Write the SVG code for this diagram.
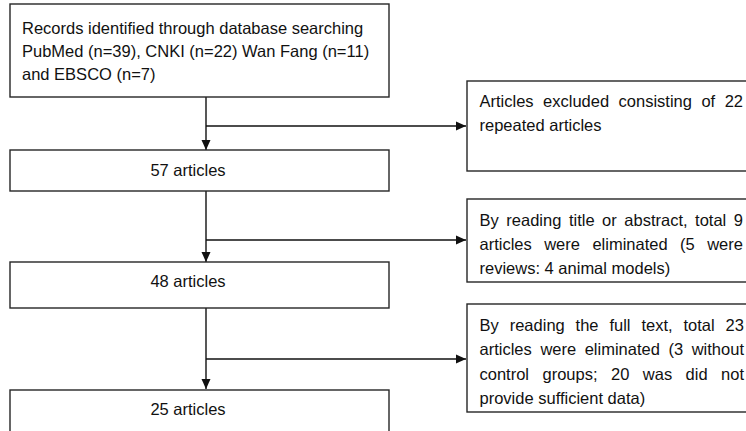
<svg xmlns="http://www.w3.org/2000/svg" width="746" height="431" viewBox="0 0 746 431">
<style>
rect{fill:#fff;stroke:#262626;stroke-width:1.4}
text{font-family:"Liberation Sans",Arial,sans-serif;font-size:16.5px;fill:#111}
.c{text-anchor:middle}
.ln{stroke:#111;stroke-width:1.4;fill:none}
</style>
<defs>
<marker id="ah" viewBox="0 0 10 10" refX="10" refY="5" markerWidth="10" markerHeight="10" markerUnits="userSpaceOnUse" orient="auto">
<path d="M0,0.5 L10,5 L0,9.5 Z" fill="#111"/>
</marker>
</defs>
<rect width="746" height="431" style="fill:#fff;stroke:none"/>
<g id="connectors">
<line class="ln" x1="206" y1="97" x2="206" y2="150" marker-end="url(#ah)"/>
<line class="ln" x1="206" y1="126" x2="466" y2="126" marker-end="url(#ah)"/>
<line class="ln" x1="206" y1="191" x2="206" y2="262" marker-end="url(#ah)"/>
<line class="ln" x1="206" y1="240" x2="466" y2="240" marker-end="url(#ah)"/>
<line class="ln" x1="206" y1="308" x2="206" y2="389" marker-end="url(#ah)"/>
<line class="ln" x1="206" y1="359" x2="466" y2="359" marker-end="url(#ah)"/>
</g>
<g id="records">
<rect x="10" y="4" width="379" height="93"/>
<text x="22" y="34">Records identified through database searching</text>
<text x="22" y="57">PubMed (n=39), CNKI (n=22) Wan Fang (n=11)</text>
<text x="22" y="80">and EBSCO (n=7)</text>
</g>
<g id="n57">
<rect x="10" y="150" width="379" height="41"/>
<text class="c" x="188" y="176">57 articles</text>
</g>
<g id="n48">
<rect x="10" y="262" width="379" height="46"/>
<text class="c" x="188" y="287">48 articles</text>
</g>
<g id="n25">
<rect x="10" y="390" width="379" height="60"/>
<text class="c" x="188" y="415">25 articles</text>
</g>
<g id="excl1">
<rect x="467" y="81" width="300" height="90"/>
<text y="107"><tspan x="479.5">Articles</tspan><tspan x="543.1">excluded</tspan><tspan x="618.6">consisting</tspan><tspan x="701.4">of</tspan><tspan x="724.7">22</tspan></text>
<text x="479.5" y="131">repeated articles</text>
</g>
<g id="excl2">
<rect x="467" y="199" width="300" height="83"/>
<text y="226"><tspan x="479.5">By</tspan><tspan x="506.3">reading</tspan><tspan x="568.9">title</tspan><tspan x="602.1">or</tspan><tspan x="624.3">abstract,</tspan><tspan x="695.1">total</tspan><tspan x="733.8">9</tspan></text>
<text y="250"><tspan x="479.5">articles</tspan><tspan x="544.2">were</tspan><tspan x="592.4">eliminated</tspan><tspan x="680.1">(5</tspan><tspan x="707.2">were</tspan></text>
<text x="479.5" y="274">reviews: 4 animal models)</text>
</g>
<g id="excl3">
<rect x="467" y="304" width="300" height="108"/>
<text y="331"><tspan x="479.5">By</tspan><tspan x="509.7">reading</tspan><tspan x="575.6">the</tspan><tspan x="609.4">full</tspan><tspan x="641.4">text,</tspan><tspan x="683.5">total</tspan><tspan x="725.6">23</tspan></text>
<text y="355"><tspan x="479.5">articles</tspan><tspan x="540.4">were</tspan><tspan x="584.7">eliminated</tspan><tspan x="668.5">(3</tspan><tspan x="691.7">without</tspan></text>
<text y="379.5"><tspan x="479.5">control</tspan><tspan x="542.5">groups;</tspan><tspan x="611">20</tspan><tspan x="642.8">was</tspan><tspan x="685.6">did</tspan><tspan x="721.1">not</tspan></text>
<text x="479.5" y="404">provide sufficient data)</text>
</g>
</svg>
